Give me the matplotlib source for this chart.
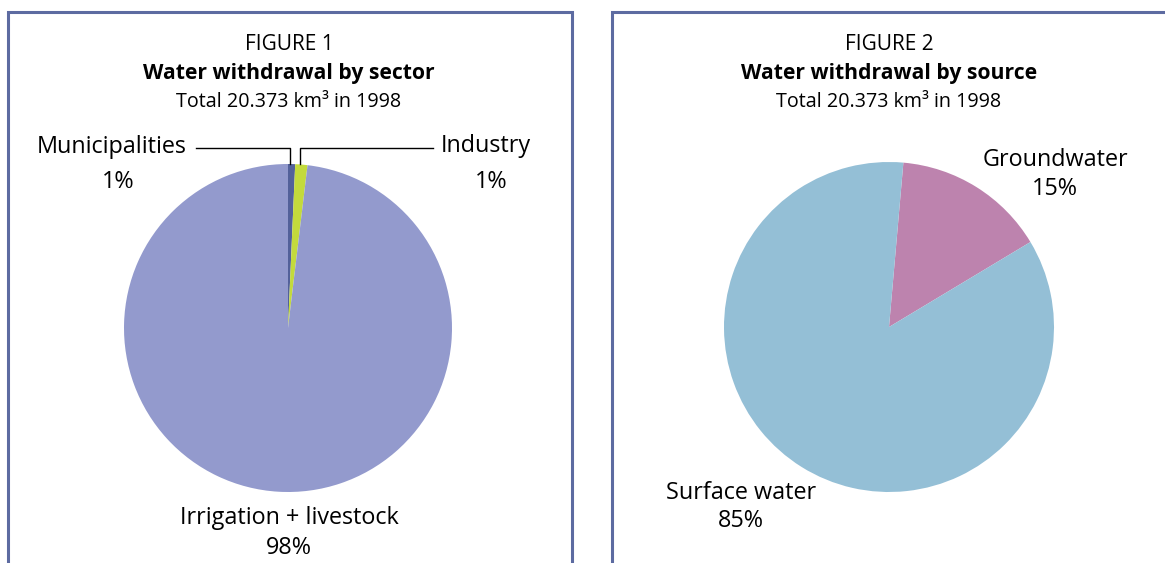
import matplotlib.pyplot as plt

# data
sector_labels = ['Municipalities', 'Industry', 'Irrigation + livestock']
sector_values = [0.7, 1.2, 98.1]
sector_pct = ['1%', '1%', '98%']
sector_colors = ['#53619a', '#c3da3c', '#939acd']

source_labels = ['Groundwater', 'Surface water']
source_values = [15, 85]
source_pct = ['15%', '85%']
source_colors = ['#bd83ae', '#94bfd6']

plt.rcParams['font.family'] = ['Open Sans', 'DejaVu Sans']

W, H = 1165, 563
fig = plt.figure(figsize=(W / 100, H / 100), dpi=100)
ax = fig.add_axes([0, 0, 1, 1])


def Y(py):
    # pixel row -> data y
    return H - py


box_color = '#5d6ba1'
# panel frames
ax.plot([8, 8, 572, 572], [Y(570), Y(12), Y(12), Y(570)], color=box_color, lw=2.2, solid_joinstyle='miter')
ax.plot([612, 612, 1170], [Y(570), Y(12), Y(12)], color=box_color, lw=2.2, solid_joinstyle='miter')

# titles
for cx, num, title in [(289, 1, 'Water withdrawal by sector'), (889, 2, 'Water withdrawal by source')]:
    ax.text(cx, Y(45), f'FIGURE {num}', ha='center', va='center', fontsize=15)
    ax.text(cx, Y(74), title, ha='center', va='center', fontsize=15.2, fontweight='bold')
    ax.text(cx, Y(102), 'Total 20.373 km³ in 1998', ha='center', va='center', fontsize=14.2)

# figure 1 pie
ax.pie(sector_values, colors=sector_colors, startangle=90, counterclock=False,
       center=(288, Y(328)), radius=164, frame=True)
# figure 2 pie
ax.pie(source_values, colors=source_colors, startangle=85, counterclock=False,
       center=(889, Y(327)), radius=165, frame=True)
ax.set_xlim(0, W)
ax.set_ylim(0, H)
ax.axis('off')

lab_fs = 16.8
# sector labels with leader lines
ax.plot([196, 290, 290], [Y(148), Y(148), Y(164)], color='black', lw=1)
ax.plot([433, 300, 300], [Y(148), Y(148), Y(164)], color='black', lw=1)
ax.text(187, Y(147), sector_labels[0], ha='right', va='center', fontsize=lab_fs)
ax.text(118, Y(182), sector_pct[0], ha='center', va='center', fontsize=lab_fs)
ax.text(441, Y(146), sector_labels[1], ha='left', va='center', fontsize=lab_fs)
ax.text(491, Y(182), sector_pct[1], ha='center', va='center', fontsize=lab_fs)
ax.text(289, Y(518), sector_labels[2], ha='center', va='center', fontsize=lab_fs)
ax.text(289, Y(548), sector_pct[2], ha='center', va='center', fontsize=lab_fs)

# source labels
ax.text(1055, Y(160), source_labels[0], ha='center', va='center', fontsize=lab_fs)
ax.text(1055, Y(189), source_pct[0], ha='center', va='center', fontsize=lab_fs)
ax.text(741, Y(493), source_labels[1], ha='center', va='center', fontsize=lab_fs)
ax.text(741, Y(521), source_pct[1], ha='center', va='center', fontsize=lab_fs)

fig.savefig('out.png', dpi=100)
